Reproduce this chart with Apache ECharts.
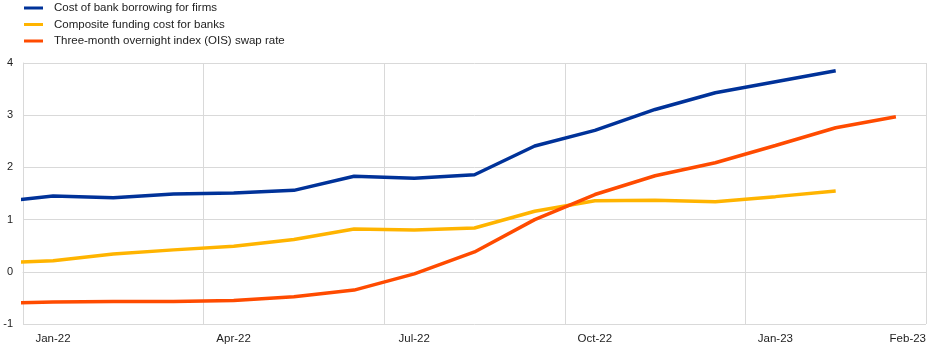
<!DOCTYPE html>
<html>
<head>
<meta charset="utf-8">
<script src="https://cdn.jsdelivr.net/npm/echarts@6/dist/echarts.min.js"></script>
<style>
  html, body { margin: 0; padding: 0; background: #fff; }
  #chart { width: 945px; height: 352px; }
</style>
</head>
<body>
<div id="chart"></div>
<script>
// 月份（Dec-21 仅用于左边缘的线段，会被裁剪）
var months = ['Dec-21', 'Jan-22', 'Feb-22', 'Mar-22', 'Apr-22', 'May-22', 'Jun-22', 'Jul-22',
    'Aug-22', 'Sep-22', 'Oct-22', 'Nov-22', 'Dec-22', 'Jan-23', 'Feb-23', 'Mar-23'];
// 横轴刻度标签
var tickLabels = ['Jan-22', 'Apr-22', 'Jul-22', 'Oct-22', 'Jan-23', 'Feb-23'];
// 数据
var firmBorrowing = [1.33, 1.45, 1.42, 1.49, 1.51, 1.56, 1.83, 1.79, 1.86, 2.41, 2.71, 3.11, 3.43, 3.64, 3.85, null];
var bankFunding = [0.17, 0.21, 0.34, 0.42, 0.49, 0.62, 0.82, 0.80, 0.84, 1.16, 1.36, 1.37, 1.34, 1.44, 1.55, null];
var oisRate = [-0.60, -0.58, -0.57, -0.57, -0.55, -0.48, -0.35, -0.04, 0.38, 1.00, 1.48, 1.84, 2.09, 2.42, 2.76, 2.97];

// 月份中点作为横坐标
function toPoints(values) {
    var out = [];
    for (var i = 0; i < values.length; i++) {
        if (values[i] !== null) {
            out.push([i - 0.5, values[i]]);
        }
    }
    return out;
}

function lineSeries(name, color, values) {
    return {
        name: name,
        type: 'line',
        data: toPoints(values),
        symbol: 'none',
        clip: true,
        lineStyle: {color: color, width: 3.5},
        itemStyle: {color: color},
        emphasis: {disabled: true}
    };
}

var chart = echarts.init(document.getElementById('chart'));
chart.setOption({
    animation: false,
    textStyle: {fontFamily: 'Liberation Sans, Arial, sans-serif'},
    legend: {
        orient: 'vertical',
        left: 24,
        top: 2,
        padding: 0,
        itemWidth: 19,
        itemHeight: 3,
        itemGap: 4.5,
        icon: 'rect',
        textStyle: {fontSize: 11.5, color: '#222', padding: [0, 0, 0, 6]},
        data: ['Cost of bank borrowing for firms', 'Composite funding cost for banks',
            'Three-month overnight index (OIS) swap rate']
    },
    grid: {
        left: 23,
        right: 19,
        top: 63,
        bottom: 28
    },
    xAxis: {
        type: 'value',
        min: 0,
        max: 15,
        interval: 3,
        axisLine: {show: true, lineStyle: {color: '#d9d9d9'}},
        axisTick: {show: false},
        splitLine: {show: true, lineStyle: {color: '#d9d9d9', width: 1}},
        axisLabel: {
            fontSize: 11.5,
            color: '#222',
            margin: 9,
            showMinLabel: true,
            showMaxLabel: true,
            alignMaxLabel: 'right',
            formatter: function (v) {
                var idx = Math.round(v / 3);
                if (idx === tickLabels.length - 1) {
                    return tickLabels[idx];
                }
                return '{a|' + tickLabels[idx] + '}';
            },
            rich: {
                a: {fontSize: 11.5, color: '#222', padding: [0, 0, 0, 60]}
            }
        }
    },
    yAxis: {
        type: 'value',
        min: -1,
        max: 4,
        interval: 1,
        axisLine: {show: true, lineStyle: {color: '#d9d9d9'}},
        axisTick: {show: false},
        splitLine: {show: true, lineStyle: {color: '#d9d9d9', width: 1}},
        axisLabel: {fontSize: 11, color: '#222', margin: 10}
    },
    series: [
        lineSeries('Cost of bank borrowing for firms', '#003299', firmBorrowing),
        lineSeries('Composite funding cost for banks', '#ffb400', bankFunding),
        lineSeries('Three-month overnight index (OIS) swap rate', '#ff4b00', oisRate)
    ]
});
</script>
</body>
</html>
